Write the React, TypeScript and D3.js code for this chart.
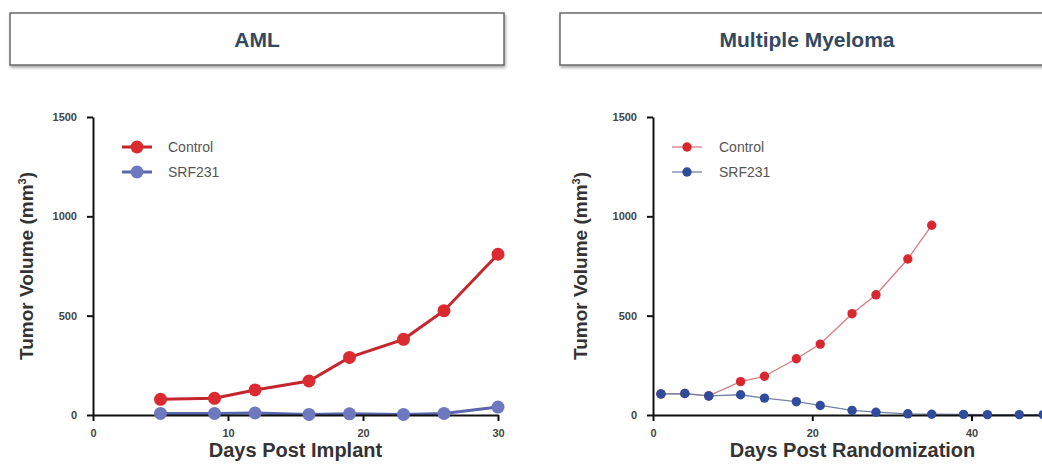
import React, { useEffect, useRef } from 'react';
import * as d3 from 'd3';

// AML panel
const amlDays = [5, 9, 12, 16, 19, 23, 26, 30];
const amlControl = [79, 84, 126, 171, 290, 381, 525, 809];
const amlSrf231 = [8, 8, 10, 3, 6, 3, 8, 40];
const amlXTicks = [0, 10, 20, 30];

// Multiple myeloma panel
const mmControlDays = [1, 4, 7, 11, 14, 18, 21, 25, 28, 32, 35];
const mmControl = [106, 108, 96, 168, 195, 283, 357, 510, 605, 785, 955];
const mmSrfDays = [1, 4, 7, 11, 14, 18, 21, 25, 28, 32, 35, 39, 42, 46, 49];
const mmSrf231 = [106, 108, 96, 102, 85, 67, 48, 23, 14, 6, 4, 3, 2, 2, 2];
const mmXTicks = [0, 20, 40];

const yTicks = [0, 500, 1000, 1500];
const seriesNames = ['Control', 'SRF231'];

const W = 1042;
const H = 466;
const FONT = '"Liberation Sans", Arial, sans-serif';

export default function App() {
  const svgRef = useRef<SVGSVGElement>(null);

  useEffect(() => {
    const svg = d3.select(svgRef.current);
    svg.selectAll('*').remove();

    const defs = svg.append('defs');
    const f = defs.append('filter').attr('id', 'shadow').attr('x', '-5%').attr('y', '-20%').attr('width', '110%').attr('height', '160%');
    f.append('feDropShadow').attr('dx', 1).attr('dy', 2).attr('stdDeviation', 1.5).attr('flood-color', '#000').attr('flood-opacity', 0.35);

    const panels = [
      {
        title: 'AML', box: [10, 13, 494, 52], xLabel: 'Days Post Implant',
        xRange: [93, 498], xDomain: [0, 30], xTicks: amlXTicks, yLabelX: 33, xLabelShift: 0,
        series: [
          { name: seriesNames[0], days: amlDays, vals: amlControl, line: '#c4262e', dot: '#dc2a31', lw: 3, r: 6.5 },
          { name: seriesNames[1], days: amlDays, vals: amlSrf231, line: '#5a66ae', dot: '#6d78bf', lw: 3, r: 6.5 },
        ],
        legend: { x1: 122, x2: 152, tx: 168 },
      },
      {
        title: 'Multiple Myeloma', box: [560, 13, 494, 52], xLabel: 'Days Post Randomization',
        xRange: [653, 1042], xDomain: [0, 48.85], xTicks: mmXTicks, yLabelX: 587, xLabelShift: 5,
        series: [
          { name: seriesNames[0], days: mmControlDays, vals: mmControl, line: '#d77c80', dot: '#d9272f', lw: 1.3, r: 4.7 },
          { name: seriesNames[1], days: mmSrfDays, vals: mmSrf231, line: '#7482a8', dot: '#2e4b9c', lw: 1.3, r: 4.7 },
        ],
        legend: { x1: 672, x2: 702, tx: 719 },
      },
    ];

    panels.forEach(p => {
      // title box
      svg.append('rect')
        .attr('x', p.box[0]).attr('y', p.box[1]).attr('width', p.box[2]).attr('height', p.box[3])
        .attr('fill', '#fff').attr('stroke', '#6a6a6a').attr('stroke-width', 1.5)
        .attr('filter', 'url(#shadow)');
      svg.append('text')
        .attr('x', p.box[0] + p.box[2] / 2).attr('y', 47)
        .attr('text-anchor', 'middle')
        .attr('font-family', FONT).attr('font-weight', 'bold').attr('font-size', 21)
        .attr('fill', '#34485f')
        .text(p.title);

      const x = d3.scaleLinear().domain(p.xDomain).range(p.xRange);
      const y = d3.scaleLinear().domain([0, 1500]).range([415, 117]);

      const g = svg.append('g');

      p.series.forEach(s => {
        const pts = s.days.map((d, i) => [d, s.vals[i]] as [number, number]);
        const line = d3.line<[number, number]>().x(d => x(d[0])).y(d => y(d[1]));
        g.append('path').datum(pts).attr('d', line)
          .attr('fill', 'none').attr('stroke', s.line).attr('stroke-width', s.lw);
      });

      const xAxis = g.append('g').attr('transform', 'translate(0,415)')
        .call(d3.axisBottom(x).tickValues(p.xTicks).tickFormat(d3.format('d')).tickSize(6).tickSizeOuter(0).tickPadding(8));
      const yAxis = g.append('g').attr('transform', `translate(${p.xRange[0]},0)`)
        .call(d3.axisLeft(y).tickValues(yTicks).tickFormat(d3.format('d')).tickSize(6).tickSizeOuter(0).tickPadding(10));
      [xAxis, yAxis].forEach(a => {
        a.select('.domain').attr('stroke', '#111').attr('stroke-width', 2);
        a.selectAll('.tick line').attr('stroke', '#111').attr('stroke-width', 2);
        a.selectAll('.tick text').attr('font-family', FONT).attr('font-size', 11)
          .attr('font-weight', 'bold').attr('fill', '#444');
      });

      p.series.forEach(s => {
        g.append('g').selectAll('circle')
          .data(s.days.map((d, i) => [d, s.vals[i]]))
          .enter().append('circle')
          .attr('cx', d => x(d[0])).attr('cy', d => y(d[1])).attr('r', s.r)
          .attr('fill', s.dot);
      });

      // axis labels
      g.append('text')
        .attr('x', (p.xRange[0] + p.xRange[1]) / 2 + p.xLabelShift).attr('y', 457)
        .attr('text-anchor', 'middle')
        .attr('font-family', FONT).attr('font-weight', 'bold').attr('font-size', 20)
        .attr('fill', '#333')
        .text(p.xLabel);
      const yl = g.append('text')
        .attr('transform', `translate(${p.yLabelX},266) rotate(-90)`)
        .attr('text-anchor', 'middle')
        .attr('font-family', FONT).attr('font-weight', 'bold').attr('font-size', 19)
        .attr('fill', '#333');
      yl.append('tspan').text('Tumor Volume (mm');
      yl.append('tspan').attr('font-size', 11).attr('dy', -7).text('3');
      yl.append('tspan').attr('dy', 7).text(')');

      // legend
      p.series.forEach((s, i) => {
        const ly = 147 + i * 25;
        const lg = g.append('g');
        lg.append('line').attr('x1', p.legend.x1).attr('x2', p.legend.x2).attr('y1', ly).attr('y2', ly)
          .attr('stroke', s.line).attr('stroke-width', s.lw);
        lg.append('circle').attr('cx', (p.legend.x1 + p.legend.x2) / 2).attr('cy', ly).attr('r', s.r).attr('fill', s.dot);
        lg.append('text').attr('x', p.legend.tx).attr('y', ly + 5)
          .attr('font-family', FONT).attr('font-size', 14).attr('fill', '#555')
          .text(s.name);
      });
    });
  }, []);

  return (
    <svg
      ref={svgRef}
      width={W}
      height={H}
      style={{ position: 'absolute', left: 0, top: 0, display: 'block', background: '#fff' }}
    />
  );
}
